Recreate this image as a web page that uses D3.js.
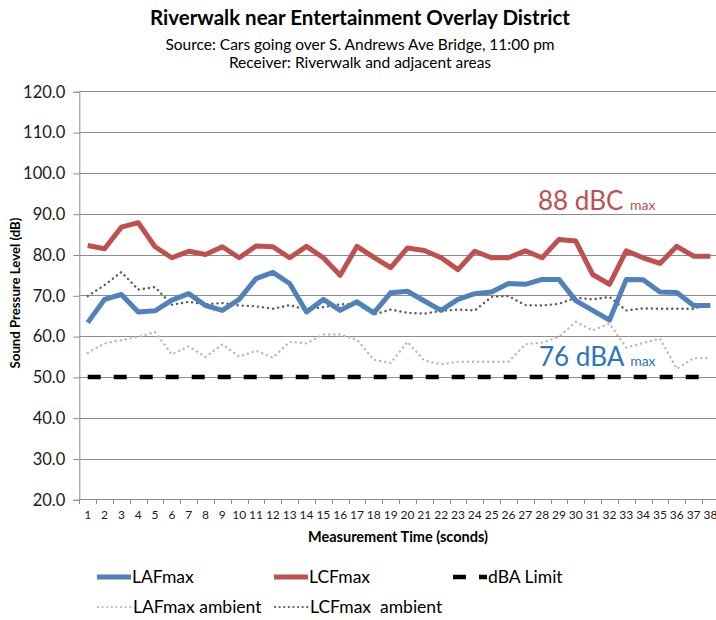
<!DOCTYPE html>
<html>
<head>
<meta charset="UTF-8">
<style>
body {
  margin: 0;
  padding: 0;
  background-color: white;
}
svg {
  font-family: Lato, "Open Sans", sans-serif;
}
</style>
</head>
<body>
<svg id="chart"></svg>

<script src="https://d3js.org/d3.v7.min.js"></script>
<script>

// measurement times (seconds)
const times = ["1","2","3","4","5","6","7","8","9","10","11","12","13","14","15","16","17","18","19",
  "20","21","22","23","24","25","26","27","28","29","30","31","32","33","34","35","36","37","38"];

// sound levels (dB)
const lafMax = [63.3, 69.0, 70.2, 65.9, 66.2, 68.8, 70.4, 67.5, 66.3, 69.0, 74.1, 75.6, 72.9, 65.9, 69.0, 66.3, 68.4, 65.7, 70.6,
  71.0, 68.6, 66.3, 69.0, 70.4, 70.8, 72.9, 72.7, 73.9, 73.9, 68.7, 66.3, 63.9, 73.9, 73.8, 70.8, 70.7, 67.5, 67.5];
const lcfMax = [82.2, 81.4, 86.7, 87.8, 81.9, 79.2, 80.8, 80.0, 81.9, 79.2, 82.1, 81.9, 79.2, 82.0, 79.2, 74.9, 82.0, 79.3, 76.8,
  81.6, 81.0, 79.2, 76.3, 80.8, 79.2, 79.2, 80.9, 79.2, 83.7, 83.3, 75.1, 72.7, 80.9, 79.2, 77.8, 82.0, 79.6, 79.6];
const lafAmbient = [55.9, 58.2, 59.0, 59.8, 61.0, 55.5, 57.5, 54.9, 58.0, 55.0, 56.4, 54.7, 58.6, 58.2, 60.4, 60.4, 59.1, 54.2, 53.4,
  58.6, 54.0, 53.1, 53.7, 53.7, 53.7, 53.7, 58.0, 58.4, 59.8, 63.5, 61.4, 63.1, 57.2, 58.3, 59.4, 52.0, 54.6, 54.6];
const lcfAmbient = [69.8, 72.5, 75.7, 71.4, 72.0, 67.7, 68.4, 67.8, 68.1, 67.5, 67.3, 66.7, 67.6, 66.5, 67.1, 67.8, 67.9, 65.3, 66.5,
  65.7, 65.5, 66.2, 66.5, 66.3, 69.6, 69.8, 67.6, 67.5, 67.9, 69.4, 69.0, 69.6, 66.3, 66.8, 66.7, 66.7, 66.7, 68.0];
const dbaLimit = 50;

const yTicks = [20, 30, 40, 50, 60, 70, 80, 90, 100, 110, 120];

let width = 716, height = 620;

let svg = d3.select("#chart")
  .attr("width", width)
  .attr("height", height);

// plot area (right edge runs a bit past the picture, like the original crop)
const plotLeft = 79.3, plotTop = 91.3, plotBottom = 499.3, step = 16.83;
const plotRight = plotLeft + step * times.length;

let x = d3.scaleBand()
  .domain(times)
  .range([plotLeft, plotRight])
  .padding(0);

let y = d3.scaleLinear()
  .domain([20, 120])
  .range([plotBottom, plotTop]);

const cx = d => x(d) + x.bandwidth() / 2;

// titles
svg.append("text")
  .attr("x", 360).attr("y", 25)
  .attr("text-anchor", "middle")
  .attr("font-weight", "bold")
  .attr("font-size", "20.5px")
  .text("Riverwalk near Entertainment Overlay District");

svg.append("text")
  .attr("x", 360).attr("y", 50)
  .attr("text-anchor", "middle")
  .attr("font-size", "15.5px")
  .text("Source: Cars going over S. Andrews Ave Bridge, 11:00 pm");

svg.append("text")
  .attr("x", 360).attr("y", 68)
  .attr("text-anchor", "middle")
  .attr("font-size", "15.5px")
  .text("Receiver: Riverwalk and adjacent areas");

// gridlines
svg.append("g")
  .selectAll("line")
  .data(yTicks)
  .enter()
  .append("line")
  .attr("x1", plotLeft)
  .attr("x2", plotRight)
  .attr("y1", d => Math.round(y(d)) + 0.5)
  .attr("y2", d => Math.round(y(d)) + 0.5)
  .attr("stroke", "#8c8c8c")
  .attr("stroke-width", 1);

// y axis
let yAxis = svg.append("g")
  .attr("transform", `translate(${plotLeft}, 0.5)`)
  .call(d3.axisLeft(y).tickValues(yTicks).tickFormat(d3.format(".1f")).tickSize(6).tickPadding(8));

yAxis.select(".domain").attr("stroke", "#8c8c8c");
yAxis.selectAll(".tick line").attr("stroke", "#8c8c8c");
yAxis.selectAll("text")
  .attr("font-size", "16.5px")
  .attr("font-family", "Lato, sans-serif")
  .attr("fill", "#1a1a1a");

// x axis: labels at category centres, ticks at category borders
let xAxis = svg.append("g")
  .attr("transform", `translate(0, ${Math.round(plotBottom) + 0.5})`)
  .call(d3.axisBottom(x).tickSize(0).tickPadding(11));

xAxis.select(".domain").remove();
xAxis.selectAll("text")
  .attr("font-size", "12px")
  .attr("font-family", "Lato, sans-serif")
  .attr("fill", "#1a1a1a");

svg.append("g")
  .selectAll("line")
  .data(times)
  .enter()
  .append("line")
  .attr("x1", d => Math.round(x(d)) + 0.5)
  .attr("x2", d => Math.round(x(d)) + 0.5)
  .attr("y1", Math.round(plotBottom))
  .attr("y2", Math.round(plotBottom) + 5)
  .attr("stroke", "#8c8c8c");

// axis titles
svg.append("text")
  .attr("transform", "translate(20, 293) rotate(-90)")
  .attr("text-anchor", "middle")
  .attr("font-weight", "bold")
  .attr("font-size", "13.2px")
  .text("Sound Pressure Level (dB)");

svg.append("text")
  .attr("x", 398).attr("y", 542)
  .attr("text-anchor", "middle")
  .attr("font-weight", "bold")
  .attr("font-size", "14.5px")
  .text("Measurement Time (sconds)");

// series
const series = [
  { name: "LAFmax ambient", values: lafAmbient, color: "#b8b8b8", width: 2.4, dash: "0.1,5", cap: "round" },
  { name: "LCFmax  ambient", values: lcfAmbient, color: "#5a5a5a", width: 2.4, dash: "0.1,5", cap: "round" },
  { name: "LCFmax", values: lcfMax, color: "#c0504d", width: 5, dash: null, cap: "butt" },
  { name: "LAFmax", values: lafMax, color: "#4f81bd", width: 5, dash: null, cap: "butt" }
];

let line = d3.line()
  .x(d => cx(d.t))
  .y(d => y(d.v));

// dBA limit line
svg.append("line")
  .attr("x1", cx(times[0]))
  .attr("x2", cx(times[times.length - 1]))
  .attr("y1", y(dbaLimit))
  .attr("y2", y(dbaLimit))
  .attr("stroke", "black")
  .attr("stroke-width", 4.5)
  .attr("stroke-dasharray", "13,13");

svg.append("g")
  .selectAll("path")
  .data(series)
  .enter()
  .append("path")
  .attr("d", s => line(s.values.map((v, i) => ({ t: times[i], v: v }))))
  .attr("fill", "none")
  .attr("stroke", s => s.color)
  .attr("stroke-width", s => s.width)
  .attr("stroke-dasharray", s => s.dash)
  .attr("stroke-linecap", s => s.cap)
  .attr("stroke-linejoin", "round");

// annotations
let a1 = svg.append("text")
  .attr("x", 538).attr("y", 209.5)
  .attr("fill", "#c0504d")
  .attr("font-size", "26px");
a1.append("tspan").text("88 dBC ");
a1.append("tspan").attr("font-size", "14px").text("max");

let a2 = svg.append("text")
  .attr("x", 539).attr("y", 366)
  .attr("fill", "#2a74c4")
  .attr("font-size", "26px");
a2.append("tspan").text("76 dBA ");
a2.append("tspan").attr("font-size", "14px").text("max");

// legend
const legendItems = [
  { name: "LAFmax", color: "#4f81bd", width: 5, dash: null, cap: "butt", x: 97, y: 577 },
  { name: "LCFmax", color: "#c0504d", width: 5, dash: null, cap: "butt", x: 274, y: 577 },
  { name: "dBA Limit", color: "black", width: 4.5, dash: "13,13", cap: "butt", x: 453, y: 577 },
  { name: "LAFmax ambient", color: "#b8b8b8", width: 2.2, dash: "0.1,4.5", cap: "round", x: 98, y: 607 },
  { name: "LCFmax  ambient", color: "#5a5a5a", width: 2.2, dash: "0.1,4.5", cap: "round", x: 275, y: 607 }
];

let legend = svg.append("g")
  .selectAll("g")
  .data(legendItems)
  .enter()
  .append("g")
  .attr("transform", d => `translate(${d.x}, ${d.y})`);

legend.append("line")
  .attr("x1", 0).attr("x2", 34)
  .attr("y1", 0).attr("y2", 0)
  .attr("stroke", d => d.color)
  .attr("stroke-width", d => d.width)
  .attr("stroke-dasharray", d => d.dash)
  .attr("stroke-linecap", d => d.cap);

legend.append("text")
  .attr("x", 35)
  .attr("y", 0)
  .attr("dy", "0.36em")
  .attr("font-size", "17.5px")
  .style("white-space", "pre")
  .text(d => d.name);

</script>
</body>
</html>
